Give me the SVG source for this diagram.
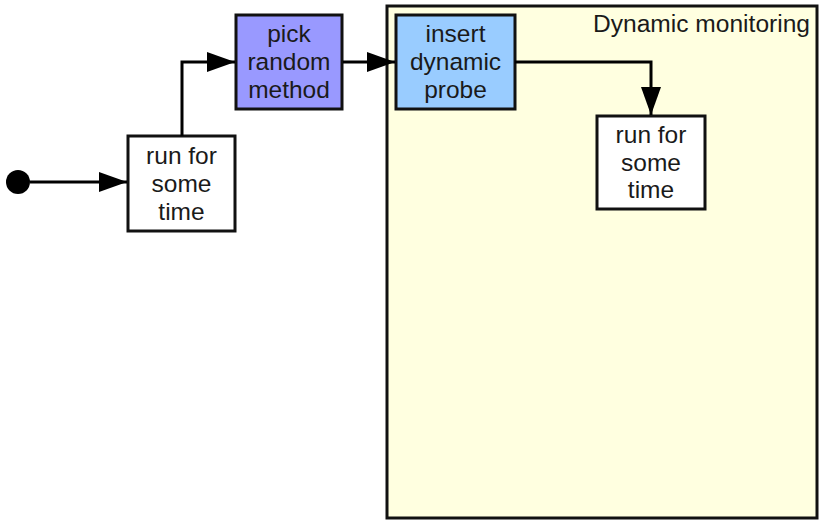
<svg xmlns="http://www.w3.org/2000/svg" width="819" height="521" viewBox="0 0 819 521">
<defs>
<style>
.box{stroke:#111;stroke-width:3}
.lbl{font-family:"Liberation Sans",Arial,sans-serif;font-size:24.5px;fill:#1a1a1a;text-anchor:middle}
.title{font-family:"Liberation Sans",Arial,sans-serif;font-size:23px;fill:#1a1a1a}
.edge{fill:none;stroke:#000;stroke-width:3}
</style>
<marker id="arr" markerUnits="userSpaceOnUse" markerWidth="30" markerHeight="22" refX="28" refY="10" orient="auto">
<path d="M0,0 L28,10 L0,20 Z" fill="#000"/>
</marker>
</defs>
<rect width="819" height="521" fill="#fff"/>
<g id="dynamic-monitoring">
<rect class="box" x="387" y="6" width="430" height="512" fill="#ffffe0"/>
<text class="title" x="593" y="31.5" textLength="217" lengthAdjust="spacingAndGlyphs">Dynamic monitoring</text>
</g>
<g id="start">
<circle cx="18" cy="182" r="12" fill="#000"/>
</g>
<g id="run1">
<rect class="box" x="128" y="136" width="107" height="95" fill="#fff"/>
<text class="lbl" x="181.5" y="164">run for</text>
<text class="lbl" x="181.5" y="192">some</text>
<text class="lbl" x="181.5" y="220">time</text>
</g>
<g id="pick">
<rect class="box" x="236" y="15" width="106" height="94" fill="#9999ff"/>
<text class="lbl" x="289" y="42">pick</text>
<text class="lbl" x="289" y="70">random</text>
<text class="lbl" x="289" y="98">method</text>
</g>
<g id="insert">
<rect class="box" x="396" y="15" width="119" height="94" fill="#99ccff"/>
<text class="lbl" x="455.5" y="42">insert</text>
<text class="lbl" x="455.5" y="70">dynamic</text>
<text class="lbl" x="455.5" y="98">probe</text>
</g>
<g id="run2">
<rect class="box" x="597" y="116" width="108" height="93" fill="#fff"/>
<text class="lbl" x="651" y="143">run for</text>
<text class="lbl" x="651" y="171">some</text>
<text class="lbl" x="651" y="198">time</text>
</g>
<g id="connectors">
<path class="edge" d="M30,182 H127" marker-end="url(#arr)"/>
<path class="edge" d="M182,136 V62 H235" marker-end="url(#arr)"/>
<path class="edge" d="M343,62 H395" marker-end="url(#arr)"/>
<path class="edge" d="M515,62 H651 V115" marker-end="url(#arr)"/>
</g>
</svg>
